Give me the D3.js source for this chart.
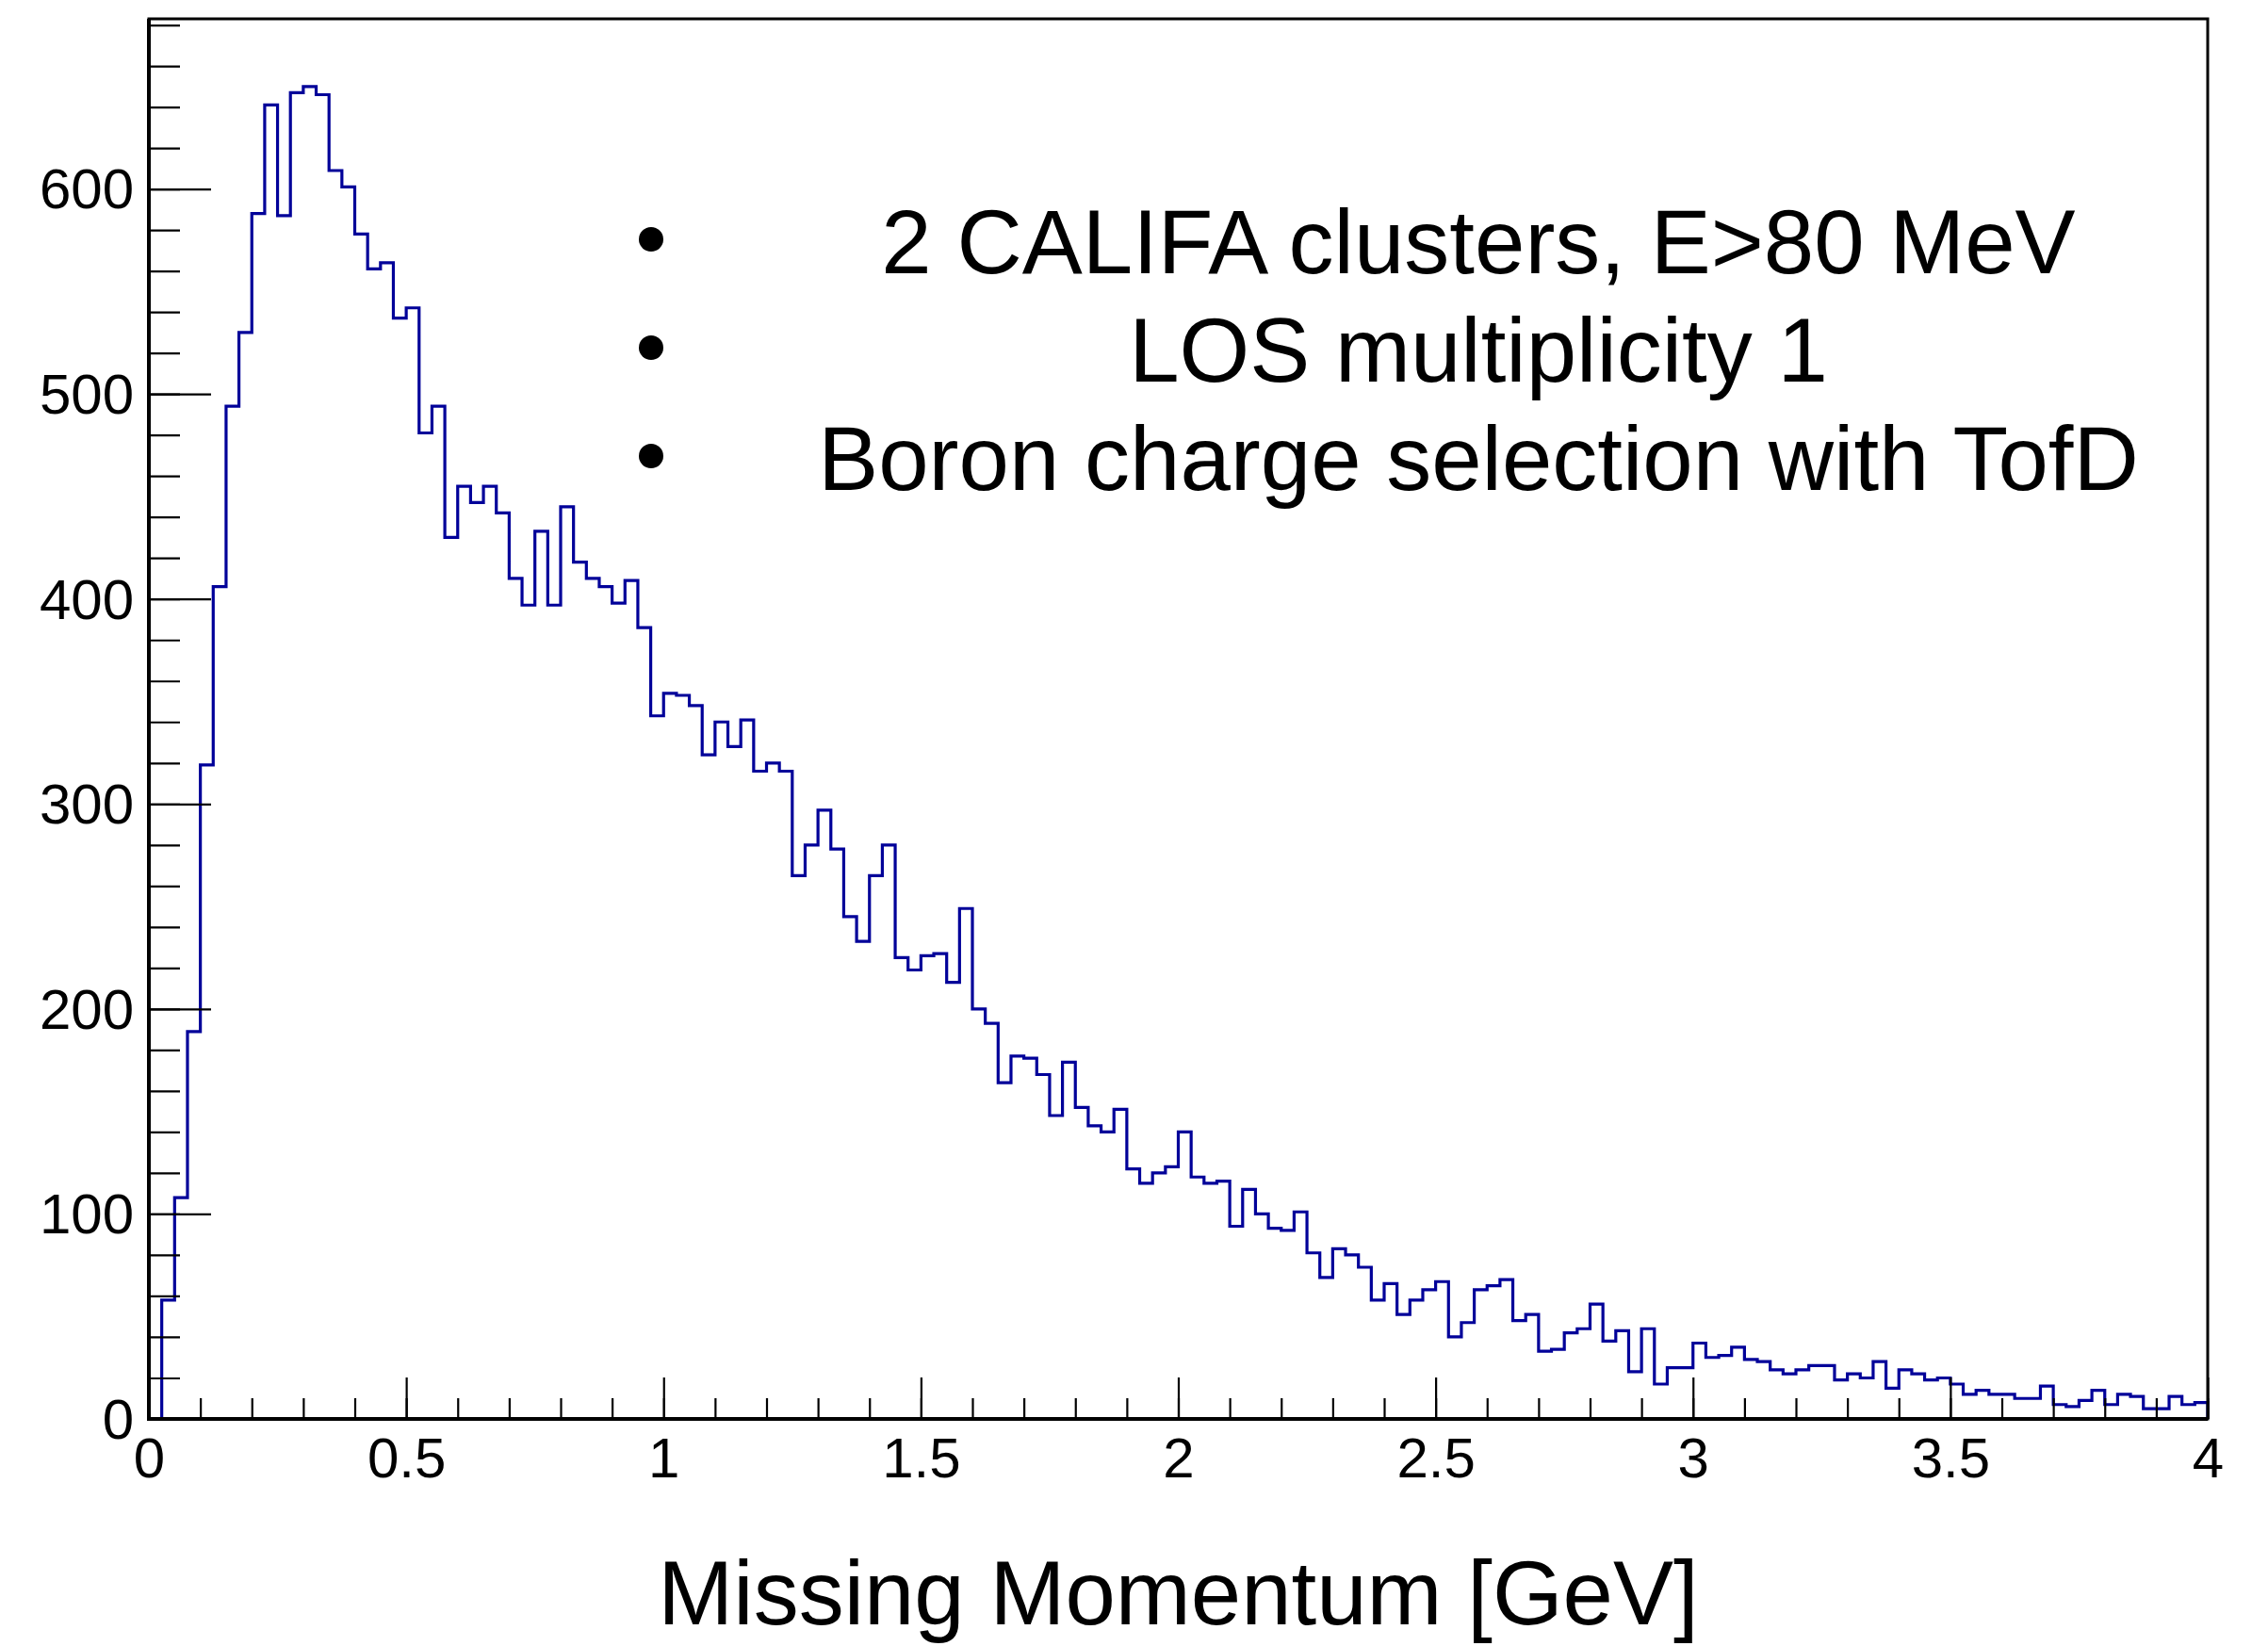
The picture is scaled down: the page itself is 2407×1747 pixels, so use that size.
<!DOCTYPE html>
<html>
<head>
<meta charset="utf-8">
<script src="https://cdn.jsdelivr.net/npm/d3@7"></script>
<style>
  html, body { margin: 0; padding: 0; background: #fff; }
  svg { display: block; }
  text { font-family: "Liberation Sans", Arial, Helvetica, sans-serif; fill: #000; }
</style>
</head>
<body>
<svg id="chart" width="2407" height="1747"></svg>
<script>
// Histogram binning: 160 bins of 0.025 GeV from 0 to 4 GeV
const binLow = 0;
const binWidth = 0.025;

// Entries per bin
const counts = [
  0, 58, 108, 189, 319, 406, 494, 530, 588, 641,
  587, 647, 650, 646, 609, 601, 578, 561, 564, 537,
  542, 481, 494, 430, 455, 447, 455, 442, 410, 397,
  433, 397, 445, 418, 410, 406, 398, 409, 386, 343,
  354, 353, 348, 324, 340, 328, 341, 316, 320, 316,
  265, 280, 297, 278, 245, 233, 265, 280, 225, 219,
  226, 227, 213, 249, 200, 193, 164, 177, 176, 168,
  148, 174, 152, 143, 140, 151, 122, 115, 120, 123,
  140, 118, 115, 116, 94, 112, 100, 93, 92, 101,
  81, 69, 83, 80, 74, 58, 66, 51, 58, 63,
  67, 40, 47, 63, 65, 68, 48, 51, 33, 34,
  42, 44, 56, 38, 43, 23, 44, 17, 25, 25,
  37, 30, 31, 35, 29, 28, 24, 22, 24, 26,
  26, 19, 22, 20, 28, 15, 24, 22, 19, 20,
  17, 12, 14, 12, 12, 10, 10, 16, 7, 6,
  9, 14, 7, 12, 11, 5, 5, 11, 7, 8
];

// Axis ranges and tick values
const xDomain = [0, 4];
const yDomain = [0, 683];
const xMajorTicks = [0, 0.5, 1, 1.5, 2, 2.5, 3, 3.5, 4];
const xMinorTicks = d3.range(0, 41).map(i => i / 10);
const yMajorTicks = [0, 100, 200, 300, 400, 500, 600];
const yMinorTicks = d3.range(0, 35).map(i => i * 20);

// Text block and axis title
const selectionLines = [
  "2 CALIFA clusters, E>80 MeV",
  "LOS multiplicity 1",
  "Boron charge selection with TofD"
];
const xTitle = "Missing Momentum [GeV]";

// Frame geometry
const frame = { left: 158, right: 2343, top: 20, bottom: 1506 };

const svg = d3.select("#chart");
svg.append("rect").attr("width", 2407).attr("height", 1747).attr("fill", "#fff");

const x = d3.scaleLinear().domain(xDomain).range([frame.left, frame.right]);
const y = d3.scaleLinear().domain(yDomain).range([frame.bottom, frame.top]);

// Histogram outline as a step contour
const pts = [[binLow, 0]];
counts.forEach((c, i) => {
  const lo = binLow + i * binWidth;
  pts.push([lo, c], [lo + binWidth, c]);
});
pts.push([binLow + counts.length * binWidth, 0]);

const line = d3.line().x(d => x(d[0])).y(d => y(d[1]));
svg.append("path")
  .attr("d", line(pts))
  .attr("fill", "none")
  .attr("stroke", "#000099")
  .attr("stroke-width", 3.2)
  .attr("stroke-linejoin", "miter");

// Y axis: minor then major ticks, pointing into the frame
const yMinor = svg.append("g").attr("transform", `translate(${frame.left},0)`)
  .call(d3.axisLeft(y).tickValues(yMinorTicks).tickSize(-33).tickFormat(""));
const yMajor = svg.append("g").attr("transform", `translate(${frame.left},0)`)
  .call(d3.axisLeft(y).tickValues(yMajorTicks).tickSize(-66).tickPadding(16).tickFormat(d3.format("d")));

// X axis
const xMinor = svg.append("g").attr("transform", `translate(0,${frame.bottom})`)
  .call(d3.axisBottom(x).tickValues(xMinorTicks).tickSize(-22).tickFormat(""));
const xMajor = svg.append("g").attr("transform", `translate(0,${frame.bottom})`)
  .call(d3.axisBottom(x).tickValues(xMajorTicks).tickSize(-44).tickPadding(19)
    .tickFormat(d => d3.format("")(d)));

[yMinor, yMajor, xMinor, xMajor].forEach(g => {
  g.select(".domain").remove();
  g.selectAll(".tick line").attr("stroke", "#000").attr("stroke-width", 2.2);
  g.selectAll(".tick text")
    .style("font-family", '"Liberation Sans", Arial, Helvetica, sans-serif')
    .attr("font-size", 60)
    .attr("fill", "#000");
});
yMajor.selectAll(".tick text").attr("dy", "0.34em");

// Frame
svg.append("rect")
  .attr("x", frame.left).attr("y", frame.top)
  .attr("width", frame.right - frame.left)
  .attr("height", frame.bottom - frame.top)
  .attr("fill", "none").attr("stroke", "#000").attr("stroke-width", 3);
svg.append("line")
  .attr("x1", frame.left).attr("x2", frame.left)
  .attr("y1", frame.top).attr("y2", frame.bottom + 2)
  .attr("stroke", "#000").attr("stroke-width", 4);
svg.append("line")
  .attr("x1", frame.left - 2).attr("x2", frame.right)
  .attr("y1", frame.bottom).attr("y2", frame.bottom)
  .attr("stroke", "#000").attr("stroke-width", 4);

// Selection criteria text with bullets
const textCenterX = 1569;
const baselines = [290, 405, 520];
const bulletX = 691;
selectionLines.forEach((t, i) => {
  svg.append("circle")
    .attr("cx", bulletX).attr("cy", baselines[i] - 36)
    .attr("r", 13).attr("fill", "#000");
  svg.append("text")
    .attr("x", textCenterX).attr("y", baselines[i])
    .attr("text-anchor", "middle")
    .attr("font-size", 96)
    .text(t);
});

// X axis title
svg.append("text")
  .attr("x", (frame.left + frame.right) / 2)
  .attr("y", 1724)
  .attr("text-anchor", "middle")
  .attr("font-size", 96)
  .text(xTitle);
</script>
</body>
</html>
